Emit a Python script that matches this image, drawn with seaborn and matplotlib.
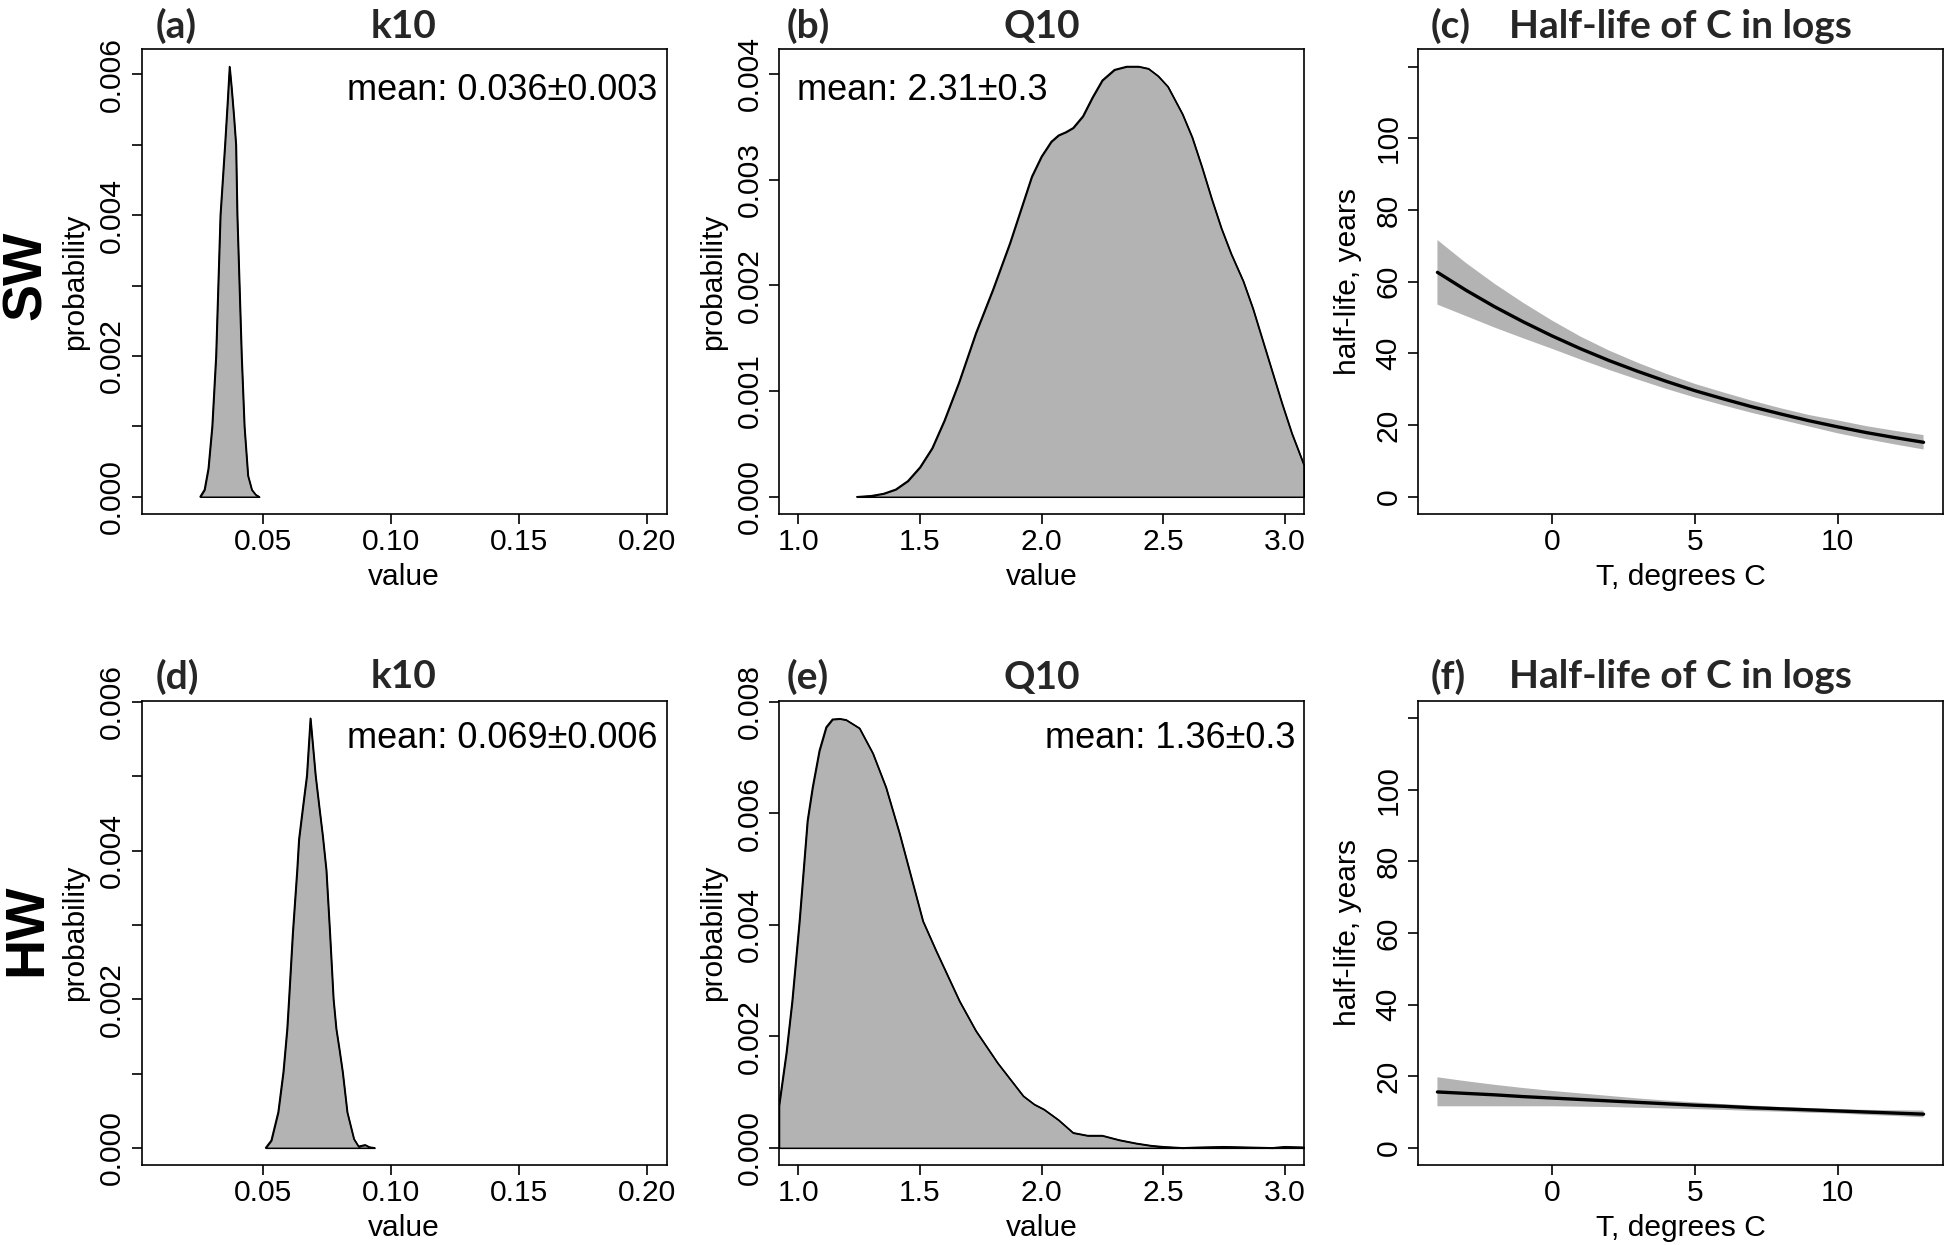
import matplotlib
matplotlib.use("Agg")
import matplotlib.pyplot as plt
import seaborn as sns
import pandas as pd

# ---------------- data ----------------
# (a) SW k10 posterior density
sw_k10_x = [0.0253, 0.0270, 0.0285, 0.0300, 0.0315, 0.0332, 0.0350, 0.0360, 0.0368,
            0.0376, 0.0385, 0.0393, 0.0398, 0.0415, 0.0426, 0.0440, 0.0455, 0.0470, 0.0484]
sw_k10_y = [0.0, 0.0001, 0.0004, 0.0010, 0.0020, 0.0040, 0.0050, 0.0056, 0.00611,
            0.0058, 0.0054, 0.0050, 0.0040, 0.0020, 0.0010, 0.0003, 0.0001, 0.00003, 0.0]

# (b) SW Q10 posterior density
sw_q10_x = [1.24, 1.30, 1.35, 1.40, 1.45, 1.50, 1.55, 1.60, 1.66, 1.73, 1.80, 1.87, 1.92,
            1.96, 2.00, 2.04, 2.07, 2.10, 2.13, 2.17, 2.21, 2.25, 2.30, 2.35, 2.40, 2.44,
            2.48, 2.52, 2.58, 2.62, 2.66, 2.70, 2.74, 2.78, 2.83, 2.87, 2.91, 2.95, 2.99,
            3.03, 3.08]
sw_q10_y = [0.0, 0.00001, 0.00003, 0.00007, 0.00015, 0.00028, 0.00046, 0.00072, 0.00108,
            0.00155, 0.00196, 0.0024, 0.00275, 0.00303, 0.00322, 0.00336, 0.00342, 0.00345,
            0.00349, 0.0036, 0.00378, 0.00394, 0.00404, 0.00407, 0.00407, 0.00405, 0.00398,
            0.00388, 0.00362, 0.0034, 0.00312, 0.00282, 0.00254, 0.0023, 0.00204, 0.00178,
            0.00148, 0.00118, 0.00088, 0.0006, 0.0003]

# (d) HW k10 posterior density
hw_k10_x = [0.0509, 0.0531, 0.0558, 0.0578, 0.0593, 0.0600, 0.0615, 0.0632, 0.0639, 0.0655,
            0.0670, 0.0684, 0.0704, 0.0718, 0.0732, 0.0746, 0.0760, 0.0774, 0.0785, 0.0797,
            0.0810, 0.0828, 0.0854, 0.0872, 0.0898, 0.0915, 0.0935]
hw_k10_y = [0.0, 0.0001, 0.00048, 0.00102, 0.0016, 0.0020, 0.0029, 0.00374, 0.00415, 0.0046,
            0.00501, 0.00578, 0.00501, 0.0046, 0.0042, 0.00374, 0.0029, 0.0020, 0.0016, 0.00133,
            0.00102, 0.00048, 0.00012, 0.00002, 0.00004, 0.00001, 0.0]

# (e) HW Q10 posterior density
hw_q10_x = [0.92, 0.95, 0.974, 1.004, 1.037, 1.058, 1.086, 1.114, 1.14, 1.17, 1.196, 1.251,
            1.306, 1.36, 1.416, 1.457, 1.512, 1.567, 1.663, 1.73, 1.82, 1.925, 1.97, 2.01,
            2.07, 2.13, 2.19, 2.25, 2.32, 2.39, 2.45, 2.5, 2.58, 2.65, 2.75, 2.85, 2.95, 3.0, 3.08]
hw_q10_y = [0.00076, 0.0017, 0.00263, 0.00407, 0.00587, 0.00647, 0.00713, 0.00755, 0.00769,
            0.0077, 0.00768, 0.00753, 0.00708, 0.00647, 0.00564, 0.00497, 0.00407, 0.00353,
            0.00263, 0.0021, 0.00152, 0.00093, 0.00078, 0.00069, 0.0005, 0.00027, 0.00022,
            0.00022, 0.00014, 0.00008, 0.00004, 0.00002, 0.0, 0.00001, 0.00002, 0.00001, 0.0,
            0.00002, 0.00001]

# (c)/(f) half-life vs temperature
temp_c = [-4, -3, -2, -1, 0, 1, 2, 3, 4, 5, 6, 7, 8, 9, 10, 11, 12, 13]
sw_half = [62.6, 57.6, 53.0, 48.8, 44.9, 41.3, 38.0, 35.0, 32.2, 29.6, 27.3, 25.1, 23.1,
           21.2, 19.5, 17.9, 16.5, 15.2]
sw_half_hi = [71.6, 65.2, 59.4, 54.1, 49.2, 44.7, 40.8, 37.4, 34.3, 31.5, 29.1, 26.8, 24.7,
              22.8, 21.3, 19.7, 18.4, 17.2]
sw_half_lo = [53.6, 50.4, 47.2, 44.2, 41.3, 38.3, 35.4, 32.7, 30.1, 27.7, 25.5, 23.4, 21.5,
              19.6, 17.7, 16.1, 14.6, 13.2]
hw_half = [15.6, 15.2, 14.8, 14.3, 13.9, 13.5, 13.1, 12.7, 12.3, 11.9, 11.6, 11.2, 10.9,
           10.6, 10.3, 10.0, 9.7, 9.4]
hw_half_hi = [19.7, 18.6, 17.6, 16.7, 15.9, 15.2, 14.5, 13.8, 13.2, 12.7, 12.2, 11.8, 11.4,
              11.1, 10.8, 10.6, 10.5, 10.4]
hw_half_lo = [11.6, 11.6, 11.6, 11.6, 11.6, 11.5, 11.4, 11.2, 11.0, 10.8, 10.6, 10.3, 10.1,
              9.8, 9.6, 9.2, 8.9, 8.5]

# ticks / labels
k10_xticks = [0.05, 0.10, 0.15, 0.20]
k10_xticklabels = ["0.05", "0.10", "0.15", "0.20"]
q10_xticks = [1.0, 1.5, 2.0, 2.5, 3.0]
q10_xticklabels = ["1.0", "1.5", "2.0", "2.5", "3.0"]
t_xticks = [0, 5, 10]
t_xticklabels = ["0", "5", "10"]
p6_yticks = [0.000, 0.001, 0.002, 0.003, 0.004, 0.005, 0.006]
p6_yticklabels = ["0.000", "", "0.002", "", "0.004", "", "0.006"]
p4_yticks = [0.000, 0.001, 0.002, 0.003, 0.004]
p4_yticklabels = ["0.000", "0.001", "0.002", "0.003", "0.004"]
p8_yticks = [0.000, 0.002, 0.004, 0.006, 0.008]
p8_yticklabels = ["0.000", "0.002", "0.004", "0.006", "0.008"]
hl_yticks = [0, 20, 40, 60, 80, 100, 120]
hl_yticklabels = ["0", "20", "40", "60", "80", "100", ""]

panel_letters = ["(a)", "(b)", "(c)", "(d)", "(e)", "(f)"]
panel_titles = ["k10", "Q10", "Half-life of C in logs", "k10", "Q10", "Half-life of C in logs"]
mean_texts = ["mean: 0.036\u00b10.003", "mean: 2.31\u00b10.3", None,
              "mean: 0.069\u00b10.006", "mean: 1.36\u00b10.3", None]
row_names = ["SW", "HW"]

# ---------------- styling ----------------
sns.set_theme(style="ticks")
plt.rcParams['font.family'] = ['Liberation Sans', 'DejaVu Sans']
plt.rcParams['axes.facecolor'] = 'white'
plt.rcParams['figure.facecolor'] = 'white'

W, H = 1946, 1245
fig = plt.figure(figsize=(W / 100, H / 100), dpi=100)

col_left = [141.5, 779.0, 1418.0]
col_w = 525.0
row_top = [49.3, 701.0]
row_bot = [514.0, 1165.0]

GRAY = '#b3b3b3'
TICK_FS = 21.6
LAB_FS = 21.6
TITLE_FS = 28
TITLE_FAMILY = ['Lato', 'DejaVu Sans']


def make_ax(r, c):
    l = col_left[c] / W
    b = 1 - row_bot[r] / H
    h = (row_bot[r] - row_top[r]) / H
    return fig.add_axes([l, b, col_w / W, h])


def style(ax, r, xlim, ylim, xt, xtl, yt, ytl, xlabel, ylabel, ylab_off):
    hpx = row_bot[r] - row_top[r]
    ax.set_xlim(xlim)
    ax.set_ylim(ylim)
    ax.set_xticks(xt)
    ax.set_xticklabels(xtl)
    ax.set_yticks(yt)
    ax.set_yticklabels(ytl)
    ax.tick_params(direction='out', length=7.4, width=1.2, labelsize=TICK_FS,
                   colors='black', labelcolor='black')
    ax.tick_params(axis='x', pad=2.5)
    ax.tick_params(axis='y', pad=3.8)
    for lab in ax.get_yticklabels():
        lab.set_rotation(90)
        lab.set_va('center')
    for s in ax.spines.values():
        s.set_visible(True)
        s.set_linewidth(1.2)
        s.set_color('black')
    ax.grid(False)
    ax.set_xlabel(xlabel, fontsize=LAB_FS, color='black')
    ax.xaxis.set_label_coords(0.5, -71.0 / hpx)
    ax.xaxis.label.set_va('baseline')
    ax.set_ylabel(ylabel, fontsize=LAB_FS, color='black')
    ax.yaxis.set_label_coords(-ylab_off / col_w, 0.5)
    ax.yaxis.label.set_va('center')


def titles(ax, r, idx, letter_x):
    hpx = row_bot[r] - row_top[r]
    yb = 1 + (11.5 if r == 0 else 12.5) / hpx
    ax.text(letter_x, yb, panel_letters[idx], transform=ax.transAxes, ha='left',
            va='baseline', fontsize=TITLE_FS, fontweight='bold', family=TITLE_FAMILY)
    ax.text(0.5, yb, panel_titles[idx], transform=ax.transAxes, ha='center',
            va='baseline', fontsize=TITLE_FS, fontweight='bold', family=TITLE_FAMILY)


def density(ax, xs, ys):
    ax.fill_between(xs, 0, ys, facecolor=GRAY, edgecolor='black', linewidth=1.1, zorder=2)
    sns.lineplot(x=xs, y=ys, ax=ax, color='black', linewidth=1.1, sort=False,
                 estimator=None, zorder=3)


def halflife(ax, t, mid, lo, hi):
    ax.fill_between(t, lo, hi, facecolor=GRAY, edgecolor='none', linewidth=0, zorder=2)
    sns.lineplot(x=t, y=mid, ax=ax, color='black', linewidth=2.4, sort=False,
                 estimator=None, zorder=3)


def mean_label(ax, r, text, right):
    hpx = row_bot[r] - row_top[r]
    yb = 1 - (50.7 if r == 0 else 47.0) / hpx
    if right:
        ax.text(0.983, yb, text, transform=ax.transAxes, ha='right', va='baseline',
                fontsize=26, color='black')
    else:
        ax.text(0.034, yb, text, transform=ax.transAxes, ha='left', va='baseline',
                fontsize=26, color='black')


k10_xlim = (0.0024, 0.2076)
q10_xlim = (0.92, 3.08)
t_xlim = (-4.68, 13.68)
hl_ylim = (-4.8, 124.8)

# Row 1 (SW)
ax = make_ax(0, 0)
density(ax, sw_k10_x, sw_k10_y)
style(ax, 0, k10_xlim, (-0.000245, 0.006355), k10_xticks, k10_xticklabels,
      p6_yticks, p6_yticklabels, "value", "probability", 66)
titles(ax, 0, 0, 0.026)
mean_label(ax, 0, mean_texts[0], True)

ax = make_ax(0, 1)
density(ax, sw_q10_x, sw_q10_y)
style(ax, 0, q10_xlim, (-0.000163, 0.004233), q10_xticks, q10_xticklabels,
      p4_yticks, p4_yticklabels, "value", "probability", 66)
titles(ax, 0, 1, 0.015)
mean_label(ax, 0, mean_texts[1], False)

ax = make_ax(0, 2)
halflife(ax, temp_c, sw_half, sw_half_lo, sw_half_hi)
style(ax, 0, t_xlim, hl_ylim, t_xticks, t_xticklabels, hl_yticks, hl_yticklabels,
      "T, degrees C", "half-life, years", 70)
titles(ax, 0, 2, 0.024)

# Row 2 (HW)
ax = make_ax(1, 0)
density(ax, hw_k10_x, hw_k10_y)
style(ax, 1, k10_xlim, (-0.000231, 0.006012), k10_xticks, k10_xticklabels,
      p6_yticks, p6_yticklabels, "value", "probability", 66)
titles(ax, 1, 3, 0.026)
mean_label(ax, 1, mean_texts[3], True)

ax = make_ax(1, 1)
density(ax, hw_q10_x, hw_q10_y)
style(ax, 1, q10_xlim, (-0.000308, 0.008018), q10_xticks, q10_xticklabels,
      p8_yticks, p8_yticklabels, "value", "probability", 66)
titles(ax, 1, 4, 0.015)
mean_label(ax, 1, mean_texts[4], True)

ax = make_ax(1, 2)
halflife(ax, temp_c, hw_half, hw_half_lo, hw_half_hi)
style(ax, 1, t_xlim, hl_ylim, t_xticks, t_xticklabels, hl_yticks, hl_yticklabels,
      "T, degrees C", "half-life, years", 70)
titles(ax, 1, 5, 0.024)

# Row labels
fig.text(27 / W, 1 - 275 / H, row_names[0], rotation=90, ha='center', va='center',
         fontsize=40, fontweight='bold', color='black')
fig.text(27 / W, 1 - 930 / H, row_names[1], rotation=90, ha='center', va='center',
         fontsize=40, fontweight='bold', color='black')

fig.savefig("out.png", dpi=100)
